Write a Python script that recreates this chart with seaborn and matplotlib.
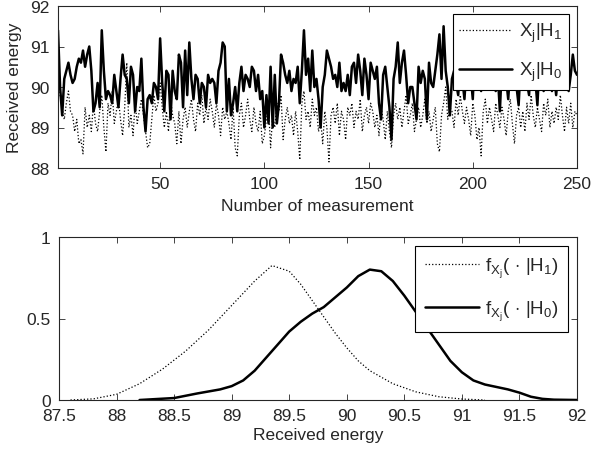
import numpy as np
import pandas as pd
import matplotlib
matplotlib.use("Agg")
import matplotlib.pyplot as plt
import seaborn as sns

# ---------------- data ----------------
h0_values = [
    91.4, 90.0, 89.3, 90.2, 90.4, 90.6, 90.3, 90.1, 90.2, 90.5,
    90.7, 90.6, 90.9, 90.5, 90.8, 91.0, 90.4, 89.4, 89.6, 90.1,
    89.5, 91.4, 90.4, 89.7, 89.9, 89.8, 89.6, 90.3, 89.9, 89.5,
    90.2, 90.8, 90.3, 90.2, 89.6, 90.5, 90.3, 89.4, 90.0, 89.9,
    90.7, 89.5, 88.9, 89.7, 89.8, 89.6, 90.1, 90.0, 89.7, 91.2,
    90.1, 89.4, 90.4, 90.3, 89.2, 90.4, 89.9, 89.7, 90.8, 90.6,
    89.5, 90.9, 89.8, 91.1, 90.2, 89.7, 90.3, 90.2, 89.6, 90.1,
    90.0, 89.5, 90.3, 90.1, 90.2, 90.1, 89.6, 90.4, 90.6, 91.1,
    91.0, 89.4, 90.2, 89.3, 89.6, 90.0, 89.4, 90.1, 90.5, 89.9,
    90.3, 90.2, 90.0, 90.5, 90.4, 89.9, 90.3, 89.7, 89.9, 89.0,
    89.8, 89.1, 90.5, 89.0, 90.3, 89.1, 89.6, 90.8, 90.6, 90.3,
    90.1, 90.4, 89.9, 90.2, 90.1, 90.5, 89.6, 90.4, 91.4, 90.3,
    90.7, 89.9, 90.9, 90.0, 90.2, 89.7, 89.0, 90.0, 90.3, 90.9,
    90.7, 90.5, 90.2, 90.3, 90.0, 90.6, 89.9, 90.1, 89.9, 90.3,
    89.8, 90.5, 90.6, 90.1, 90.8, 90.4, 89.8, 90.7, 90.3, 89.7,
    90.6, 90.4, 90.2, 90.5, 89.6, 89.2, 90.3, 90.5, 90.0, 89.5,
    88.7, 90.2, 90.5, 91.1, 90.1, 90.6, 90.9, 90.3, 89.6, 90.0,
    90.0, 89.6, 89.2, 90.5, 90.1, 90.4, 90.2, 89.2, 90.6, 90.1,
    90.0, 90.4, 90.8, 91.3, 90.2, 91.5, 90.4, 90.0, 89.3, 90.2,
    90.4, 90.1, 89.8, 90.6, 90.2, 89.7, 90.5, 90.7, 90.3, 89.7,
    90.9, 90.4, 90.2, 89.9, 91.2, 90.5, 90.1, 90.6, 90.2, 90.4,
    89.9, 90.3, 89.4, 90.6, 90.8, 90.2, 89.7, 90.5, 90.3, 90.9,
    90.0, 89.55, 90.6, 90.2, 90.5, 90.1, 89.8, 90.8, 90.4, 90.2,
    89.55, 90.6, 90.3, 89.9, 90.7, 90.1, 90.5, 89.9, 90.3, 89.8,
    90.4, 90.7, 90.0, 90.2, 90.6, 89.9, 90.3, 90.8, 90.4, 90.3,
]

h1_values = [
    90.7, 89.8, 89.5, 89.2, 89.6, 89.9, 89.4, 89.3, 88.9, 89.2,
    88.6, 88.7, 88.35, 89.5, 89.0, 89.3, 88.9, 89.6, 89.1, 88.9,
    89.4, 89.8, 89.0, 88.4, 89.6, 89.3, 89.9, 89.1, 89.4, 89.7,
    89.2, 88.8, 89.5, 90.6, 89.0, 89.3, 88.8, 89.6, 89.1, 89.4,
    89.7, 89.3, 88.9, 88.5, 88.6, 89.2, 89.8, 89.4, 89.6, 90.1,
    89.5, 89.0, 89.4, 88.9, 89.7, 89.3, 89.1, 88.6, 89.4, 88.6,
    89.2, 89.5, 89.0, 89.4, 89.7, 89.2, 88.9, 89.6, 89.3, 89.8,
    89.1, 89.5, 89.2, 89.7, 89.4, 89.0, 89.6, 89.3, 88.8, 89.5,
    89.2, 89.4, 89.1, 88.7, 89.5, 88.5, 88.3, 89.3, 89.6, 89.0,
    89.3, 89.7, 89.2, 88.9, 89.5, 89.1, 88.9, 89.4, 88.6, 88.8,
    89.2, 89.5, 88.5, 89.3, 89.0, 89.6, 89.4, 89.8, 88.7, 89.2,
    89.5, 89.1, 89.3, 88.8, 89.4, 88.9, 88.2, 89.6, 89.9, 89.2,
    89.4, 89.0, 89.7, 89.3, 89.5, 88.9, 89.2, 88.6, 89.4, 89.0,
    88.15, 89.3, 89.5, 89.1, 89.6, 88.8, 89.4, 89.2, 88.7, 89.5,
    89.3, 89.6, 89.0, 89.4, 89.2, 89.7, 88.9, 89.3, 89.5, 89.1,
    89.6, 89.4, 89.0, 89.3, 88.8, 89.5, 89.2, 88.7, 89.4, 88.9,
    88.5, 89.3, 89.6, 89.2, 89.5, 89.0, 89.4, 89.8, 89.1, 89.3,
    89.6, 88.9, 89.2, 89.5, 89.0, 89.3, 89.7, 89.1, 89.4, 88.9,
    89.2, 89.5, 88.6, 88.4, 89.3, 89.6, 90.0, 89.2, 89.5, 89.4,
    89.0, 89.7, 89.3, 89.8, 89.4, 89.1, 89.5, 89.2, 88.8, 89.6,
    89.3, 88.7, 89.0, 88.3, 89.4, 89.7, 89.1, 89.5, 89.2, 88.9,
    89.6, 89.3, 89.0, 89.5, 89.2, 88.8, 89.4, 89.7, 89.1, 88.6,
    89.3, 89.5, 89.0, 89.4, 88.9, 89.6, 89.2, 89.8, 89.3, 89.0,
    89.5, 89.2, 88.9, 89.6, 89.3, 89.7, 89.0, 89.4, 89.1, 89.5,
    89.2, 89.8, 89.3, 88.9, 89.5, 89.1, 89.6, 89.0, 89.4, 89.3,
]

pdf_h1_x = [87.6, 87.8, 88.0, 88.2, 88.4, 88.6, 88.8, 89.0, 89.2, 89.35,
            89.5, 89.6, 89.7, 89.8, 89.9, 90.0, 90.1, 90.2, 90.4, 90.6,
            90.8, 91.0, 91.2]
pdf_h1_y = [0.0, 0.007, 0.035, 0.10, 0.19, 0.30, 0.43, 0.58, 0.73, 0.825,
            0.79, 0.71, 0.61, 0.51, 0.41, 0.32, 0.24, 0.18, 0.10, 0.05,
            0.02, 0.006, 0.0]

pdf_h0_x = [88.2, 88.5, 88.7, 88.9, 89.0, 89.1, 89.2, 89.3, 89.4, 89.5,
            89.6, 89.7, 89.8, 89.9, 90.0, 90.1, 90.2, 90.3, 90.4, 90.5,
            90.6, 90.7, 90.8, 90.9, 91.0, 91.1, 91.2, 91.3, 91.4, 91.5,
            91.6, 91.7, 91.8, 92.0]
pdf_h0_y = [0.0, 0.012, 0.04, 0.065, 0.085, 0.12, 0.18, 0.26, 0.34, 0.42,
            0.48, 0.53, 0.57, 0.63, 0.69, 0.76, 0.80, 0.79, 0.73, 0.64,
            0.54, 0.44, 0.34, 0.24, 0.17, 0.12, 0.095, 0.08, 0.065, 0.045,
            0.02, 0.007, 0.002, 0.0]

top_xticks = [50, 100, 150, 200, 250]
top_yticks = [88, 89, 90, 91, 92]
bot_xticks = [87.5, 88, 88.5, 89, 89.5, 90, 90.5, 91, 91.5, 92]
bot_xticklabels = ["87.5", "88", "88.5", "89", "89.5", "90", "90.5", "91", "91.5", "92"]
bot_yticks = [0, 0.5, 1]
bot_yticklabels = ["0", "0.5", "1"]

# ---------------- style ----------------
sns.set_style("ticks")
plt.rcParams["font.family"] = ["Liberation Sans", "DejaVu Sans"]
plt.rcParams["mathtext.fontset"] = "custom"
plt.rcParams["mathtext.rm"] = "Liberation Sans"
plt.rcParams["mathtext.it"] = "Liberation Sans"
plt.rcParams["mathtext.bf"] = "Liberation Sans"
plt.rcParams["font.size"] = 12
plt.rcParams["axes.linewidth"] = 0.8
plt.rcParams["xtick.direction"] = "in"
plt.rcParams["ytick.direction"] = "in"
plt.rcParams["xtick.top"] = True
plt.rcParams["ytick.right"] = True

W, H = 593, 452
fig = plt.figure(figsize=(W / 100, H / 100), dpi=100)
ax1 = fig.add_axes([58 / W, 1 - 169 / H, (577 - 58) / W, (169 - 7) / H])
ax2 = fig.add_axes([59 / W, 1 - 401 / H, (577 - 59) / W, (401 - 238) / H])

idx = np.arange(1, len(h0_values) + 1)
df_top = pd.DataFrame({"n": np.concatenate([idx, idx]),
                       "E": h1_values + h0_values,
                       "s": ["H1"] * len(idx) + ["H0"] * len(idx)})

sns.lineplot(data=df_top[df_top.s == "H1"], x="n", y="E", ax=ax1, color="black",
             lw=0.9, linestyle=":", label=r"$\mathrm{X_j|H_1}$")
sns.lineplot(data=df_top[df_top.s == "H0"], x="n", y="E", ax=ax1, color="black",
             lw=1.8, linestyle="-", label=r"$\mathrm{X_j|H_0}$")
ax1.set_xlim(1, 250)
ax1.set_ylim(88, 92)
ax1.set_xticks(top_xticks)
ax1.set_yticks(top_yticks)
ax1.set_xlabel("Number of measurement", fontsize=12.5, labelpad=5)
ax1.set_ylabel("Received energy", fontsize=12.5, labelpad=6)
ax1.tick_params(labelsize=12.5, length=4, width=0.6, pad=6)
leg1 = ax1.legend(loc="upper right", fontsize=13.5, frameon=True, fancybox=False,
                  edgecolor="black", framealpha=1, handlelength=2.8,
                  borderaxespad=0.45, labelspacing=0.85, handletextpad=0.35,
                  borderpad=0.35)
leg1.get_frame().set_linewidth(0.8)

df_h1 = pd.DataFrame({"x": pdf_h1_x, "y": pdf_h1_y})
df_h0 = pd.DataFrame({"x": pdf_h0_x, "y": pdf_h0_y})
sns.lineplot(data=df_h1, x="x", y="y", ax=ax2, color="black", lw=0.9,
             linestyle=":", label=r"$\mathrm{f_{X_j}(\,\cdot\,|H_1)}$")
sns.lineplot(data=df_h0, x="x", y="y", ax=ax2, color="black", lw=1.8,
             linestyle="-", label=r"$\mathrm{f_{X_j}(\,\cdot\,|H_0)}$")
ax2.set_xlim(87.5, 92)
ax2.set_ylim(0, 1)
ax2.set_xticks(bot_xticks)
ax2.set_xticklabels(bot_xticklabels)
ax2.set_yticks(bot_yticks)
ax2.set_yticklabels(bot_yticklabels)
ax2.set_xlabel("Received energy", fontsize=12.5, labelpad=3)
ax2.set_ylabel("")
ax2.tick_params(labelsize=12.5, length=4, width=0.6, pad=6)
leg2 = ax2.legend(loc="upper right", fontsize=13.5, frameon=True, fancybox=False,
                  edgecolor="black", framealpha=1, handlelength=2.9,
                  borderaxespad=0.5, labelspacing=1.0, handletextpad=0.3,
                  borderpad=0.5)
leg2.get_frame().set_linewidth(0.8)

fig.savefig("out.png", dpi=100)
